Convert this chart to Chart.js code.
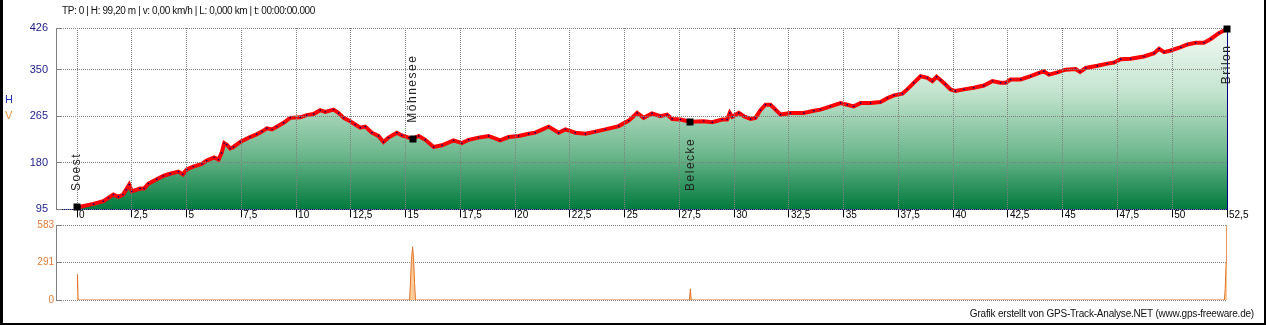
<!DOCTYPE html>
<html><head><meta charset="utf-8">
<script src="https://cdn.jsdelivr.net/npm/chart.js@4"></script>
<style>
html,body{margin:0;padding:0;background:#fff;}
#wrap{position:relative;width:1266px;height:325px;overflow:hidden;background:#fff;font-family:"Liberation Sans",Arial,sans-serif;}
canvas{position:absolute;left:0;}
#c1{top:0;}
#c2{top:205px;}
.txt{position:absolute;white-space:nowrap;}
#frame{position:absolute;left:0;top:0;width:1266px;height:325px;box-sizing:border-box;border-left:3px solid #000;border-right:2px solid #000;border-bottom:2px solid #000;pointer-events:none;}
</style></head>
<body>
<div id="wrap">
<canvas id="c1" width="1266" height="230"></canvas>
<canvas id="c2" width="1266" height="115"></canvas>
<div class="txt" id="hdr" style="left:62px;top:5px;font-size:10px;letter-spacing:-0.4px;color:#111;">TP: 0 | H: 99,20 m | v: 0,00 km/h | L: 0,000 km | t: 00:00:00.000</div>
<div class="txt" style="left:5px;top:93px;font-size:11px;color:#2233bb;">H</div>
<div class="txt" style="left:5px;top:109px;font-size:11px;color:#e8903a;">V</div>
<div class="txt" style="right:12px;top:308px;font-size:10px;letter-spacing:-0.2px;color:#111;">Grafik erstellt von GPS-Track-Analyse.NET (www.gps-freeware.de)</div>
<div id="frame"></div>
</div>
<script>
// ---- data ----
const elevKm = [0,0.14,0.75,1.2,1.43,1.66,1.89,2.1,2.24,2.38,2.5,2.88,3.06,3.26,3.64,3.94,4.25,4.63,4.83,5.01,5.31,5.7,5.92,6.26,6.46,6.6,6.72,6.84,6.99,7.14,7.45,7.9,8.2,8.44,8.67,8.9,9.12,9.43,9.73,10.19,10.49,10.8,11.1,11.33,11.71,11.94,12.17,12.47,12.7,12.93,13.16,13.46,13.76,13.99,14.22,14.6,14.83,15.14,15.32,15.6,15.9,16.28,16.66,17.19,17.57,17.88,18.33,18.79,19.32,19.7,20.16,20.62,20.92,21.53,21.99,22.29,22.75,23.21,23.66,24.12,24.73,25.19,25.57,25.87,26.25,26.63,26.94,27.17,27.55,28.0,28.61,29.0,29.45,29.68,29.8,29.91,30.21,30.44,30.75,30.97,31.2,31.43,31.66,31.89,32.12,32.57,33.18,33.64,33.94,34.4,34.86,35.16,35.46,35.77,36.23,36.68,37.0,37.3,37.68,37.9,38.2,38.51,38.82,39.05,39.24,39.42,39.65,39.88,40.1,40.49,40.94,41.4,41.79,42.16,42.39,42.62,43.08,43.54,43.92,44.14,44.37,44.76,45.13,45.59,45.79,46.05,46.58,47.04,47.34,47.65,48.1,48.71,49.17,49.4,49.63,49.93,50.39,50.69,51.07,51.45,51.76,52.14,52.45,52.5];
const elevM = [99.2,100,105,110,116,122,118,122,131,140,128,133,133,142,150,156,160,164,159,168,173,178,184,190,186,198,216,213,206,209,218,227,232,237,243,241,246,253,262,263,267,269,276,273,277,271,262,256,250,244,246,235,229,218,226,235,230,226,224,229,222,209,212,221,216,222,226,229,221,227,229,233,235,246,235,241,235,233,237,241,247,257,271,262,270,265,268,260,259,255,256,254,259,259,271,264,271,265,260,262,276,286,286,277,268,271,271,275,277,283,289,286,283,289,289,291,298,303,306,314,326,338,335,329,337,331,323,314,311,314,317,321,329,326,326,332,332,338,344,347,341,345,350,351,346,353,357,361,363,369,370,374,380,388,382,385,391,396,399,399,406,417,423,425];
const xTicks = [0,2.5,5,7.5,10,12.5,15,17.5,20,22.5,25,27.5,30,32.5,35,37.5,40,42.5,45,47.5,50,52.5];
const yTicks = [95,180,265,350,426];
const placeNames = ['Soest','Möhnesee','Belecke','Brilon'];
const placeKm = [0,15.32,28.0,52.5];
const placeElev = [99.2,224,255,425];
const placeSide = [1,1,-1,-1];
const lowKm = [0,0.02,0.05,15.18,15.21,15.26,15.32,15.36,15.41,15.45,27.96,28.0,28.04,52.38,52.42,52.46,52.49,52.5];
const lowVal = [88,199,0,0,94,296,414,335,136,0,0,87,0,0,88,290,560,583];
const lowTicks = [0,291,583];

const X_MIN = -0.96, X_MAX = 52.5;
const font = {family:'"Liberation Sans", Arial, sans-serif', size:10};

const elevPts = elevKm.map((k,i)=>({x:k,y:elevM[i]}));
const placePts = placeKm.map((k,i)=>({x:k,y:placeElev[i]}));
const lowPts = lowKm.map((k,i)=>({x:k,y:lowVal[i]}));

const overlayPlugin = {
  id:'overlay',
  afterDraw(chart){
    const ctx = chart.ctx, xs = chart.scales.x, ys = chart.scales.y;
    const ex = Math.round(xs.getPixelForValue(X_MAX)) + 0.5;
    ctx.save();
    ctx.strokeStyle = '#000080';
    ctx.lineWidth = 1;
    ctx.beginPath();
    ctx.moveTo(ex, ys.getPixelForValue(elevM[elevM.length-1]));
    ctx.lineTo(ex, ys.bottom);
    ctx.stroke();
    ctx.restore();
    ctx.save();
    ctx.fillStyle = '#000';
    placeKm.forEach((k,i)=>{
      const px = xs.getPixelForValue(k), py = ys.getPixelForValue(placeElev[i]);
      ctx.fillRect(Math.round(px)-3.5, Math.round(py)-3.5, 7, 7);
    });
    ctx.restore();
    ctx.save();
    ctx.font = '12px "Liberation Sans", Arial, sans-serif';
    ctx.fillStyle = '#222';
    try{ ctx.letterSpacing = '1.5px'; }catch(e){}
    ctx.textAlign = 'center';
    ctx.textBaseline = 'middle';
    placeNames.forEach((n,i)=>{
      const px = xs.getPixelForValue(placeKm[i]);
      const py = ys.getPixelForValue(placeElev[i]);
      const w = ctx.measureText(n).width;
      const d = 16 + w/2;
      ctx.save();
      ctx.translate(px, py);
      ctx.rotate(-Math.PI/2);
      ctx.fillText(n, placeSide[i]*d, 0);
      ctx.restore();
    });
    ctx.restore();
  }
};

function grad(c){
  const ca = c.chart.chartArea;
  if(!ca) return 'rgba(0,120,60,0.5)';
  const g = c.chart.ctx.createLinearGradient(0, ca.top, 0, ca.bottom);
  g.addColorStop(0,'#f4faf6');
  g.addColorStop(0.35,'#c4e4cf');
  g.addColorStop(0.7,'#6cb68c');
  g.addColorStop(1,'#007a3d');
  return g;
}

new Chart(document.getElementById('c1'), {
  type:'line',
  data:{datasets:[
    {type:'scatter', data:placePts, pointStyle:'rect', pointRadius:3.5, pointBackgroundColor:'#000', pointBorderColor:'#000', pointBorderWidth:0, order:0},
    {data:elevPts, borderColor:'#ff0000', borderWidth:4, tension:0, fill:'start', backgroundColor:grad,
     pointStyle:'rect', pointRadius:1, pointBackgroundColor:'#000080', pointBorderWidth:0, order:1}
  ]},
  options:{
    responsive:false, animation:false, events:[],
    layout:{padding:{left:0,right:39,top:28,bottom:0}},
    plugins:{legend:{display:false}, tooltip:{enabled:false}},
    scales:{
      x:{type:'linear', min:X_MIN, max:X_MAX,
        afterBuildTicks:s=>{s.ticks = xTicks.map(v=>({value:v}));},
        afterFit:s=>{s.height=20;},
        ticks:{align:'start', labelOffset:2, padding:-8, maxRotation:0, minRotation:0, autoSkip:false, color:'#000', font:font,
          callback:v=>String(v).replace('.',',')},
        grid:{color:'#808080', tickColor:'#000', tickLength:8, tickBorderDash:[], z:1},
        border:{color:'#000080', dash:[1,1], z:1}
      },
      y:{type:'linear', min:95, max:426,
        afterBuildTicks:s=>{s.ticks = yTicks.map(v=>({value:v}));},
        afterFit:s=>{s.width=56;},
        ticks:{color:'#1c1c8c', padding:14, font:{family:font.family, size:11}},
        grid:{color:'#808080', tickColor:'#808080', tickLength:-6, tickBorderDash:[], z:1},
        border:{color:'#808080', dash:[1,1], z:1}
      }
    }
  },
  plugins:[overlayPlugin]
});

new Chart(document.getElementById('c2'), {
  type:'line',
  data:{datasets:[
    {data:lowPts, borderColor:'#e0742a', borderWidth:1, tension:0, fill:'start', backgroundColor:'#ffcc99', pointRadius:0}
  ]},
  options:{
    responsive:false, animation:false, events:[],
    layout:{padding:{left:0,right:39,top:20,bottom:20}},
    plugins:{legend:{display:false}, tooltip:{enabled:false}},
    scales:{
      x:{type:'linear', min:X_MIN, max:X_MAX, display:false},
      y:{type:'linear', min:0, max:583,
        afterBuildTicks:s=>{s.ticks = lowTicks.map(v=>({value:v}));},
        afterFit:s=>{s.width=56;},
        ticks:{color:'#e07b39', padding:8, font:font},
        grid:{color:'#808080', tickColor:'#808080', tickLength:-6, tickBorderDash:[]},
        border:{color:'#808080', dash:[1,1]}
      }
    }
  }
});
</script>
</body></html>
